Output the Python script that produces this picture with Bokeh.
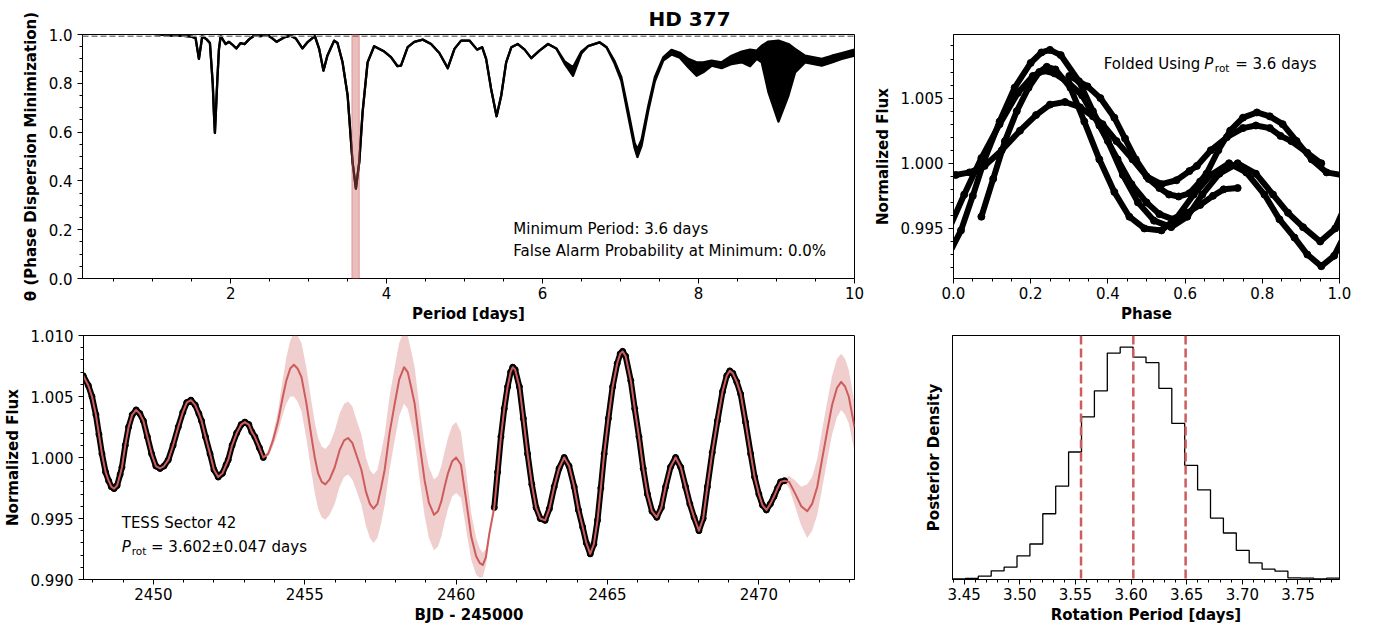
import numpy as np
from bokeh.plotting import figure
from bokeh.layouts import row, column
from bokeh.models import FixedTicker, Label, Span, BoxAnnotation, Range1d, PrintfTickFormatter
from bokeh.embed import file_html
from bokeh.resources import INLINE

FONT = "DejaVu Sans"
RED = "#CD5C5C"

# ---------------- Phase Dispersion Minimization periodogram ----------------
pdm_period = [0.10, 0.60, 1.00, 1.23, 1.40, 1.50, 1.55, 1.593, 1.636, 1.692, 1.734, 1.77, 1.785,
              1.798, 1.81, 1.83, 1.85, 1.872, 1.936, 1.979, 2.013, 2.073, 2.128, 2.180, 2.235,
              2.300, 2.385, 2.470, 2.530, 2.590, 2.685, 2.770, 2.835, 2.920, 2.990, 3.080, 3.135,
              3.190, 3.240, 3.327, 3.370, 3.435, 3.500, 3.563, 3.606, 3.649, 3.692, 3.756, 3.840,
              3.970, 4.056, 4.140, 4.184, 4.270, 4.355, 4.463, 4.570, 4.676, 4.784, 4.870, 4.955,
              5.062, 5.160, 5.225, 5.276, 5.340, 5.410, 5.470, 5.533, 5.600, 5.683, 5.770, 5.855,
              5.960, 6.070, 6.176, 6.283, 6.390, 6.497, 6.583, 6.730, 6.820, 6.925, 7.010, 7.097,
              7.180, 7.216, 7.270, 7.354, 7.440, 7.547, 7.653, 7.760, 7.868, 7.975, 8.060, 8.167,
              8.296, 8.424, 8.553, 8.660, 8.745, 8.810, 8.896, 9.025, 9.153, 9.238, 9.366, 9.580,
              9.710, 9.837, 10.0]
pdm_theta_upper = [1.004, 1.004, 1.003, 0.996, 0.994, 0.991, 0.985, 0.900, 0.993, 0.980, 0.965, 0.800, 0.680,
                   0.597, 0.680, 0.820, 0.940, 0.993, 0.961, 0.970, 0.961, 0.943, 0.965, 0.961, 0.980,
                   0.995, 0.993, 0.998, 0.985, 0.970, 0.988, 0.995, 0.984, 0.943, 0.970, 0.993, 0.941,
                   0.852, 0.913, 0.975, 0.965, 0.886, 0.750, 0.477, 0.368, 0.477, 0.682, 0.886, 0.952,
                   0.930, 0.907, 0.870, 0.872, 0.948, 0.970, 0.979, 0.961, 0.924, 0.862, 0.941, 0.975,
                   0.975, 0.938, 0.948, 0.900, 0.777, 0.665, 0.750, 0.886, 0.948, 0.961, 0.938, 0.903,
                   0.934, 0.961, 0.943, 0.890, 0.866, 0.930, 0.952, 0.968, 0.948, 0.890, 0.825, 0.690,
                   0.555, 0.530, 0.570, 0.705, 0.826, 0.906, 0.937, 0.925, 0.900, 0.886, 0.886, 0.893,
                   0.886, 0.913, 0.930, 0.938, 0.934, 0.954, 0.971, 0.975, 0.961, 0.941, 0.913, 0.900,
                   0.913, 0.924, 0.938]
pdm_theta_lower = [1.004, 1.004, 1.003, 0.996, 0.994, 0.991, 0.985, 0.900, 0.993, 0.980, 0.965, 0.800, 0.680,
                   0.597, 0.680, 0.820, 0.940, 0.993, 0.961, 0.970, 0.961, 0.943, 0.965, 0.961, 0.980,
                   0.995, 0.993, 0.998, 0.985, 0.970, 0.988, 0.995, 0.984, 0.943, 0.970, 0.993, 0.941,
                   0.852, 0.913, 0.975, 0.965, 0.886, 0.750, 0.477, 0.368, 0.477, 0.682, 0.886, 0.952,
                   0.930, 0.907, 0.870, 0.872, 0.948, 0.970, 0.979, 0.961, 0.924, 0.862, 0.941, 0.975,
                   0.975, 0.938, 0.948, 0.900, 0.777, 0.665, 0.750, 0.886, 0.948, 0.961, 0.938, 0.903,
                   0.934, 0.961, 0.943, 0.880, 0.831, 0.922, 0.952, 0.968, 0.948, 0.880, 0.810, 0.668,
                   0.535, 0.498, 0.545, 0.685, 0.808, 0.893, 0.918, 0.905, 0.866, 0.831, 0.845, 0.872,
                   0.862, 0.879, 0.886, 0.870, 0.900, 0.886, 0.764, 0.643, 0.750, 0.845, 0.886, 0.872,
                   0.886, 0.900, 0.913]
pdm_threshold = 0.993
pdm_band = [3.555, 3.649]

# ---------------- TESS Sector 42 light curve ----------------
tess_time = [2447.68, 2447.85, 2447.97, 2448.10, 2448.20, 2448.30, 2448.42, 2448.52, 2448.61, 2448.70,
             2448.80, 2448.90, 2448.96, 2449.07, 2449.18, 2449.30, 2449.43, 2449.55, 2449.67, 2449.80,
             2449.94, 2450.08, 2450.22, 2450.35, 2450.49, 2450.65, 2450.82, 2450.97, 2451.10, 2451.24,
             2451.38, 2451.50, 2451.59, 2451.72, 2451.87, 2452.00, 2452.14, 2452.28, 2452.40, 2452.47,
             2452.60, 2452.75, 2452.90, 2453.02, 2453.15, 2453.25, 2453.35, 2453.50, 2453.63,
             2461.26, 2461.37, 2461.48, 2461.59, 2461.70, 2461.80, 2461.87, 2461.95, 2462.09, 2462.22,
             2462.36, 2462.50, 2462.64, 2462.78, 2462.94, 2463.08, 2463.24, 2463.40, 2463.57, 2463.73,
             2463.90, 2464.04, 2464.18, 2464.30, 2464.43, 2464.55, 2464.67, 2464.78, 2464.89, 2465.03,
             2465.17, 2465.32, 2465.42, 2465.50, 2465.60, 2465.77, 2465.90, 2466.04, 2466.18, 2466.32,
             2466.47, 2466.63, 2466.78, 2466.92, 2467.08, 2467.25, 2467.42, 2467.58, 2467.72, 2467.86,
             2468.02, 2468.16, 2468.30, 2468.46, 2468.63, 2468.80, 2468.94, 2469.04, 2469.14, 2469.27,
             2469.40, 2469.56, 2469.73, 2469.86, 2470.00, 2470.12, 2470.25, 2470.38, 2470.50, 2470.62,
             2470.72, 2470.85]
tess_flux = [1.0067, 1.0059, 1.0050, 1.0035, 1.0019, 1.0003, 0.9988, 0.9981, 0.9976, 0.99745,
             0.9977, 0.9986, 0.9992, 1.0010, 1.0025, 1.0035, 1.0039, 1.0036, 1.0030, 1.0017,
             1.0003, 0.9993, 0.9991, 0.9993, 0.9998, 1.0010, 1.0025, 1.0037, 1.0045, 1.0047,
             1.0043, 1.0036, 1.0030, 1.0017, 1.0003, 0.9990, 0.9984, 0.9987, 0.9994, 0.9998,
             1.0010, 1.0020, 1.0027, 1.0029, 1.0027, 1.0021, 1.0017, 1.0008, 1.0000,
             0.9959, 0.9988, 1.0017, 1.0040, 1.0058, 1.0070, 1.0074, 1.0072, 1.0058, 1.0032,
             1.0003, 0.9978, 0.9959, 0.9950, 0.99485, 0.9958, 0.9976, 0.9991, 1.0000, 0.9993,
             0.9976, 0.9957, 0.9943, 0.9930, 0.9921, 0.9929, 0.99485, 0.9975, 1.0003, 1.0032,
             1.0058, 1.0077, 1.0085, 1.0087, 1.0083, 1.0063, 1.0040, 1.0017, 0.9991, 0.9970,
             0.9956, 0.9951, 0.9959, 0.9976, 0.9992, 1.0000, 0.9992, 0.9976, 0.9962, 0.9951,
             0.9940, 0.9950, 0.9976, 1.0004, 1.0030, 1.0054, 1.0067, 1.0071, 1.0069, 1.0062,
             1.0052, 1.0029, 1.0003, 0.9984, 0.9970, 0.9961, 0.9957, 0.9962, 0.9968, 0.9975,
             0.9980, 0.9981]

# GP prediction inside the gaps (mean and 1-sigma)
gp_gap1_time = [2453.79, 2453.95, 2454.12, 2454.26, 2454.39, 2454.52, 2454.64, 2454.76, 2454.89, 2455.05,
                2455.22, 2455.33, 2455.44, 2455.56, 2455.68, 2455.82, 2455.99, 2456.15, 2456.30, 2456.43,
                2456.57, 2456.72, 2456.87, 2457.02, 2457.15, 2457.27, 2457.40, 2457.52, 2457.64, 2457.80,
                2457.97, 2458.12, 2458.28, 2458.40, 2458.52, 2458.63, 2458.80, 2458.96, 2459.10, 2459.27,
                2459.40, 2459.51, 2459.62, 2459.73, 2459.87, 2460.00, 2460.16, 2460.33, 2460.50, 2460.66,
                2460.78, 2460.88, 2460.98, 2461.10]
gp_gap1_mean = [1.0003, 1.0014, 1.0030, 1.0048, 1.0063, 1.0073, 1.0076, 1.0073, 1.0066, 1.0045,
                1.0017, 1.0000, 0.9987, 0.9980, 0.9978, 0.9982, 0.9992, 1.0006, 1.0014, 1.0016,
                1.0012, 1.0001, 0.9990, 0.9972, 0.9962, 0.9958, 0.9962, 0.9975, 0.9990, 1.0020,
                1.0044, 1.0064, 1.0074, 1.0070, 1.0057, 1.0044, 1.0010, 0.9981, 0.9963, 0.9953,
                0.9956, 0.9964, 0.9976, 0.9987, 0.9997, 1.0000, 0.9994, 0.9965, 0.9935, 0.9919,
                0.99135, 0.9912, 0.9918, 0.9938]
gp_gap1_std = [0.0002, 0.0005, 0.0009, 0.0014, 0.0019, 0.0023, 0.0026, 0.0027, 0.0028, 0.0029,
               0.0029, 0.0029, 0.0029, 0.0029, 0.0029, 0.0029, 0.0030, 0.0030, 0.0030, 0.0030,
               0.0030, 0.0029, 0.0029, 0.0028, 0.0028, 0.0028, 0.0028, 0.0029, 0.0029, 0.0030,
               0.0030, 0.0030, 0.0030, 0.0030, 0.0030, 0.0030, 0.0029, 0.0029, 0.0029, 0.0029,
               0.0029, 0.0029, 0.0029, 0.0029, 0.0029, 0.0029, 0.0027, 0.0024, 0.0019, 0.0015,
               0.0012, 0.0010, 0.0007, 0.0004]
gp_gap2_time = [2471.00, 2471.21, 2471.40, 2471.60, 2471.76, 2471.93, 2472.10, 2472.26, 2472.42, 2472.58,
                2472.72, 2472.85, 2472.97, 2473.16]
gp_gap2_mean = [0.9980, 0.9970, 0.9960, 0.9956, 0.9962, 0.9976, 1.0000, 1.0022, 1.0043, 1.0057,
                1.0062, 1.0058, 1.0050, 1.0025]
gp_gap2_std = [0.0005, 0.0011, 0.0016, 0.0022, 0.0022, 0.0023, 0.0024, 0.0024, 0.0024, 0.0024,
               0.0023, 0.0023, 0.0022, 0.0020]
gp_std_in_data = 0.0001

fold_period = 3.6
fold_epoch = 2464.60

# ---------------- Posterior of rotation period ----------------
post_range = [3.4395, 3.7873]
post_counts = [2, 3, 10, 26, 37, 71, 107, 198, 281, 384, 490, 568, 682, 700, 670,
               653, 576, 470, 344, 270, 185, 140, 88, 50, 31, 25, 5, 4, 2, 4]
post_lines = [3.555, 3.602, 3.649]

# ---------------- tick positions ----------------
p1_xticks = [2, 4, 6, 8, 10]
p1_yticks = [0.0, 0.2, 0.4, 0.6, 0.8, 1.0]
p2_xticks = [0.0, 0.2, 0.4, 0.6, 0.8, 1.0]
p2_yticks = [0.995, 1.000, 1.005]
p3_xticks = [2450, 2455, 2460, 2465, 2470]
p3_yticks = [0.990, 0.995, 1.000, 1.005, 1.010]
p4_xticks = [3.45, 3.50, 3.55, 3.60, 3.65, 3.70, 3.75]


def make_fig(width, height, xr, yr, borders):
    p = figure(width=width, height=height, x_range=Range1d(*xr), y_range=Range1d(*yr),
               output_backend="svg", toolbar_location=None,
               min_border_left=borders[0], min_border_right=borders[1],
               min_border_top=borders[2], min_border_bottom=borders[3])
    p.grid.visible = False
    p.outline_line_color = "black"
    p.outline_line_width = 1
    p.outline_line_alpha = 1
    p.background_fill_color = "white"
    p.border_fill_color = "white"
    for ax in (p.xaxis[0], p.yaxis[0]):
        ax.axis_line_color = "black"
        ax.major_tick_line_color = "black"
        ax.minor_tick_line_color = "black"
        ax.major_tick_out = 5
        ax.major_tick_in = 0
        ax.minor_tick_out = 3
        ax.minor_tick_in = 0
        ax.major_label_text_font = FONT
        ax.major_label_text_font_size = "15px"
        ax.major_label_text_color = "black"
        ax.axis_label_text_font = FONT
        ax.axis_label_text_font_size = "15px"
        ax.axis_label_text_font_style = "bold"
        ax.axis_label_text_color = "black"
    p.xaxis[0].major_label_standoff = 3
    p.xaxis[0].axis_label_standoff = 3
    p.yaxis[0].major_label_standoff = 5
    p.yaxis[0].axis_label_standoff = 6
    return p


def minor(lo, hi, step):
    return [round(v, 6) for v in np.arange(lo, hi + step / 2, step)]


def label(p, x, y, text, size="15px", style="normal"):
    p.add_layout(Label(x=x, y=y, text=text, text_font=FONT, text_font_size=size,
                       text_font_style=style, text_align="left", text_baseline="middle",
                       text_color="black"))


# ---------------- Panel 1: PDM ----------------
p1 = make_fig(870, 327, (0.1, 10.0), (0.0, 1.0), (82, 16, 34, 49))
p1.title.text = "HD 377"
p1.title.text_font = FONT
p1.title.text_font_size = "20px"
p1.title.text_font_style = "bold"
p1.title.text_color = "black"
p1.title.align = "left"
p1.title.offset = 566
p1.title.standoff = 8
p1.xaxis[0].ticker = FixedTicker(ticks=p1_xticks, minor_ticks=minor(0.5, 10, 0.5))
p1.yaxis[0].ticker = FixedTicker(ticks=p1_yticks, minor_ticks=minor(0.0, 1.0, 0.05))
p1.xaxis[0].formatter = PrintfTickFormatter(format="%d")
p1.yaxis[0].formatter = PrintfTickFormatter(format="%.1f")
p1.xaxis[0].axis_label = "Period [days]"
p1.yaxis[0].axis_label = "\u03b8 (Phase Dispersion Minimization)"
p1.varea(x=pdm_period, y1=pdm_theta_lower, y2=pdm_theta_upper, fill_color="black")
p1.line(pdm_period, pdm_theta_upper, line_color="black", line_width=2.3, line_join="round")
p1.line(pdm_period, pdm_theta_lower, line_color="black", line_width=2.3, line_join="round")
p1.add_layout(Span(location=pdm_threshold, dimension="width", line_color="gray",
                   line_dash="6 3", line_width=1.5))
p1.add_layout(BoxAnnotation(left=pdm_band[0], right=pdm_band[1], fill_color=RED, fill_alpha=0.4,
                            line_color=RED, line_alpha=0.5, line_width=1))
label(p1, 5.625, 0.2033, "Minimum Period: 3.6 days")
label(p1, 5.625, 0.1145, "False Alarm Probability at Minimum: 0.0%")

# ---------------- Panel 2: folded light curve ----------------
p2 = make_fig(508, 327, (0.0, 1.0), (0.99116, 1.00988), (82, 39, 33, 49))
p2.xaxis[0].ticker = FixedTicker(ticks=p2_xticks, minor_ticks=minor(0.0, 1.0, 0.05))
p2.yaxis[0].ticker = FixedTicker(ticks=p2_yticks, minor_ticks=minor(0.992, 1.009, 0.001))
p2.xaxis[0].formatter = PrintfTickFormatter(format="%.1f")
p2.yaxis[0].formatter = PrintfTickFormatter(format="%.3f")
p2.xaxis[0].axis_label = "Phase"
p2.yaxis[0].axis_label = "Normalized Flux"

tt = np.array(tess_time)
ff = np.array(tess_flux)
ph = ((tt - fold_epoch) / fold_period) % 1.0
runs_x, runs_y = [], []
cx, cy = [ph[0]], [ff[0]]
for i in range(1, len(tt)):
    if tt[i] - tt[i - 1] > 1.0:
        runs_x.append(cx); runs_y.append(cy)
        cx, cy = [ph[i]], [ff[i]]
    elif ph[i] < ph[i - 1]:
        cx.append(ph[i] + 1.0); cy.append(ff[i])
        runs_x.append(cx); runs_y.append(cy)
        cx, cy = [ph[i - 1] - 1.0, ph[i]], [ff[i - 1], ff[i]]
    else:
        cx.append(ph[i]); cy.append(ff[i])
runs_x.append(cx); runs_y.append(cy)
p2.multi_line(runs_x, runs_y, line_color="black", line_width=6, line_join="round", line_cap="round")
p2.scatter(ph, ff, size=7, color="black")
label(p2, 0.3892, 1.007626, "Folded Using")
label(p2, 0.6496, 1.007626, "P", style="italic")
label(p2, 0.6770, 1.007335, "rot", size="10.5px")
label(p2, 0.7298, 1.007626, "= 3.6 days")

# ---------------- Panel 3: light curve with GP ----------------
p3 = make_fig(870, 306, (2447.69, 2473.16), (0.990, 1.010), (82, 16, 8, 54))
p3.xaxis[0].ticker = FixedTicker(ticks=p3_xticks, minor_ticks=minor(2448, 2473, 1))
p3.yaxis[0].ticker = FixedTicker(ticks=p3_yticks, minor_ticks=minor(0.990, 1.010, 0.001))
p3.xaxis[0].formatter = PrintfTickFormatter(format="%d")
p3.yaxis[0].formatter = PrintfTickFormatter(format="%.3f")
p3.xaxis[0].axis_label = "BJD - 245000"
p3.yaxis[0].axis_label = "Normalized Flux"

seg_split = int(np.argmax(np.diff(tt) > 1.0)) + 1
gp_time = list(tt[:seg_split]) + gp_gap1_time + list(tt[seg_split:]) + gp_gap2_time
gp_mean = list(ff[:seg_split]) + gp_gap1_mean + list(ff[seg_split:]) + gp_gap2_mean
gp_std = [gp_std_in_data] * seg_split + gp_gap1_std + [gp_std_in_data] * (len(tt) - seg_split) + gp_gap2_std
gm = np.array(gp_mean)
gs = np.array(gp_std)
p3.varea(x=gp_time, y1=gm - gs, y2=gm + gs, fill_color=RED, fill_alpha=0.3)
p3.multi_line([list(tt[:seg_split]), list(tt[seg_split:])],
              [list(ff[:seg_split]), list(ff[seg_split:])], line_color="black", line_width=6,
              line_join="round")
p3.scatter(tt, ff, size=6, color="black")
p3.line(gp_time, gp_mean, line_color=RED, line_width=2, line_join="round")
label(p3, 2448.953, 0.99467, "TESS Sector 42")
label(p3, 2448.953, 0.992669, "P", style="italic")
label(p3, 2449.283, 0.992358, "rot", size="10.5px")
label(p3, 2449.92, 0.992669, "= 3.602\u00b10.047 days")

# ---------------- Panel 4: posterior histogram ----------------
p4 = make_fig(508, 306, tuple(post_range), (0, 735), (82, 39, 8, 54))
p4.xaxis[0].ticker = FixedTicker(ticks=p4_xticks, minor_ticks=minor(3.44, 3.78, 0.01))
p4.xaxis[0].formatter = PrintfTickFormatter(format="%.2f")
p4.yaxis[0].ticker = FixedTicker(ticks=[], minor_ticks=[])
p4.yaxis[0].major_tick_out = 0
p4.yaxis[0].minor_tick_out = 0
p4.yaxis[0].axis_label_standoff = 10
p4.xaxis[0].axis_label = "Rotation Period [days]"
p4.yaxis[0].axis_label = "Posterior Density"
edges = np.linspace(post_range[0], post_range[1], len(post_counts) + 1)
hx, hy = [edges[0]], [0]
for i, c in enumerate(post_counts):
    hx += [edges[i], edges[i + 1]]
    hy += [c, c]
hx.append(edges[-1]); hy.append(0)
p4.line(hx, hy, line_color="black", line_width=1.3)
for v in post_lines:
    p4.add_layout(Span(location=v, dimension="height", line_color=RED, line_dash="9 4",
                       line_width=2.5))

layout = column(row(p1, p2), row(p3, p4))
open("out.html", "w").write(file_html(layout, INLINE))
